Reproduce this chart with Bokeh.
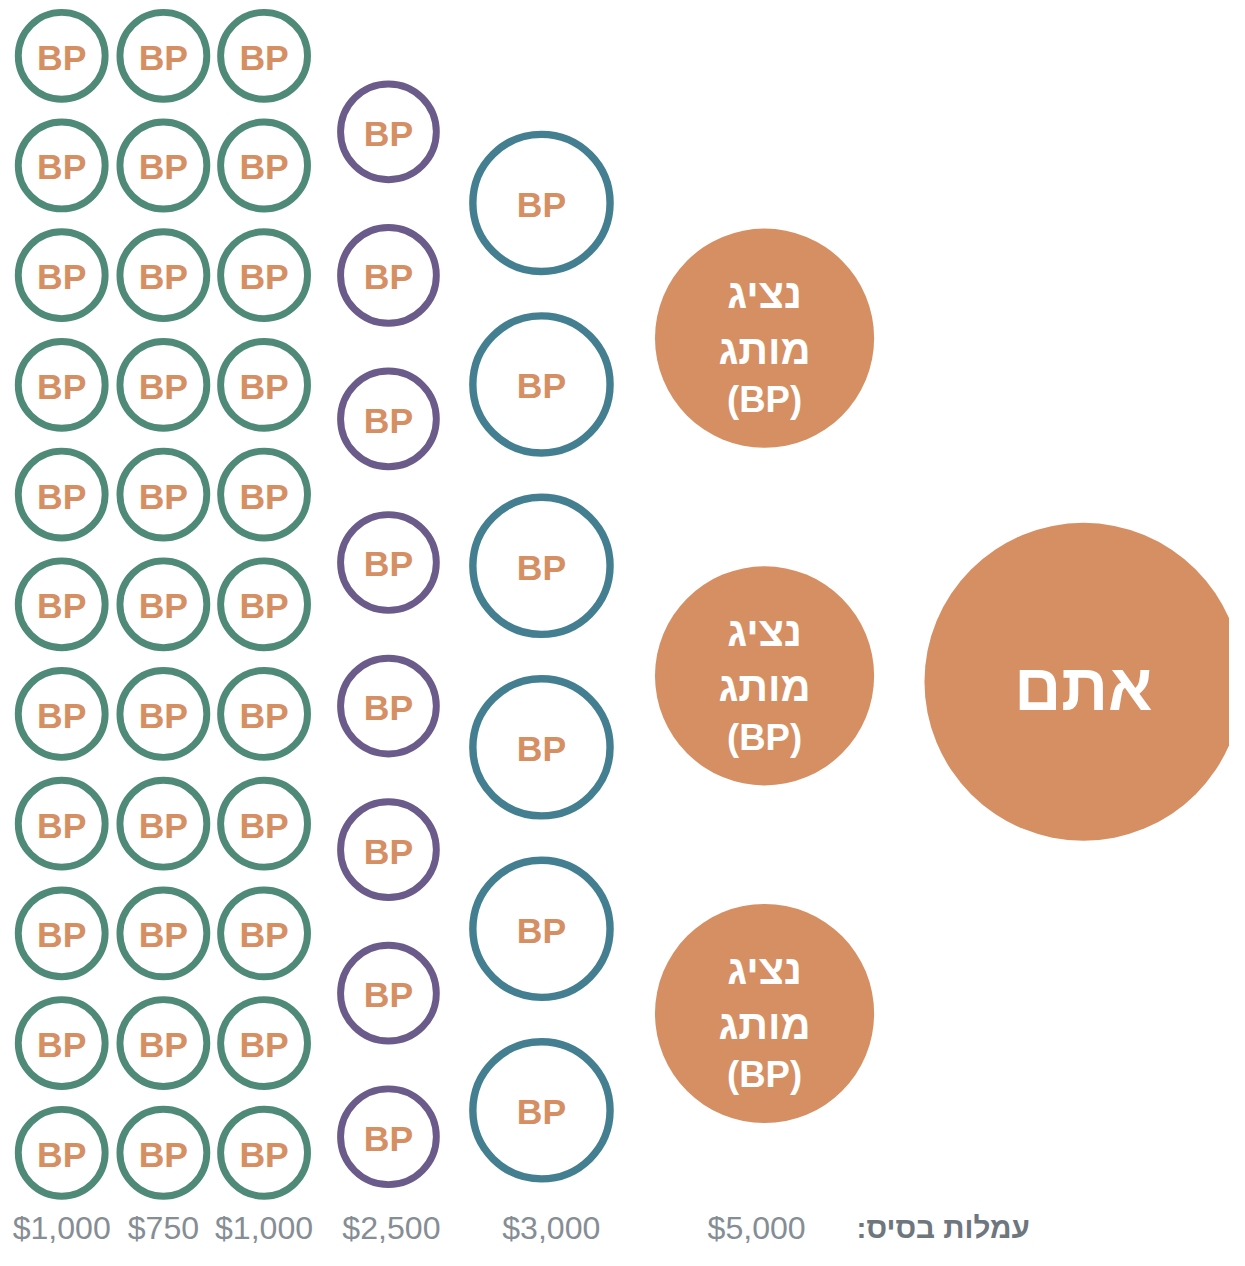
from bokeh.plotting import figure
from bokeh.models import Range1d, ColumnDataSource
from bokeh.core.properties import value
from bokeh.embed import file_html
from bokeh.resources import INLINE

# ---- data ----
tier_fees = ["$1,000", "$750", "$1,000", "$2,500", "$3,000", "$5,000"]
tier_counts = [11, 11, 11, 8, 6, 3]
ring_colors = ["#4e8a77", "#4e8a77", "#4e8a77", "#6b5b8a", "#437f91"]
circle_label = "BP"
rep_lines = ["נציג", "מותג", "(BP)"]
you_label = "אתם"
fee_title = "עמלות בסיס:\u200f"

# ---- layout (reference pixel space) ----
col_x = [62, 165, 267, 393, 548, 774]
col_y0 = [56, 56, 56, 133, 205, 342]
col_step = [111.1, 111.1, 111.1, 145.4, 183.8, 342]
col_r = [44, 44, 44, 48.5, 69.5, 111]
col_lw = [7, 7, 7, 7, 7.5, 0]
label_x = [62, 165, 267, 396, 558, 766]
label_y = 1243
title_x = 955
you_x, you_y, you_r = 1097, 690, 161

ORANGE = "#d58f62"
FONT = value("Liberation Sans")
S = 1229 / 1245  # screen scale

p = figure(width=1229, height=1250, x_range=Range1d(0, 1245), y_range=Range1d(1266, 0),
           output_backend="svg", toolbar_location=None, min_border=0)
p.axis.visible = False
p.grid.visible = False
p.outline_line_color = None
p.background_fill_color = "white"
p.border_fill_color = "white"

ring = dict(x=[], y=[], r=[], c=[], lw=[])
for ci in range(5):
    for k in range(tier_counts[ci]):
        ring["x"].append(col_x[ci])
        ring["y"].append(col_y0[ci] + k * col_step[ci])
        ring["r"].append(col_r[ci])
        ring["c"].append(ring_colors[ci])
        ring["lw"].append(col_lw[ci] * S)
rs = ColumnDataSource(ring)
p.circle(x="x", y="y", radius="r", source=rs, fill_color="white",
         line_color="c", line_width="lw")
bp = dict(x=[xx for xx in ring["x"]], y=[yy + 2 for yy in ring["y"]],
          t=[circle_label] * len(ring["x"]))
p.text(x="x", y="y", text="t", source=ColumnDataSource(bp), text_font=FONT,
       text_font_style="bold", text_font_size=f"{36*S:.1f}px", text_color=ORANGE,
       text_align="center", text_baseline="middle")

# filled brand-rep circles
ci = 5
rx = [col_x[ci]] * tier_counts[ci]
ry = [col_y0[ci] + k * col_step[ci] for k in range(tier_counts[ci])]
p.circle(x=rx, y=ry, radius=col_r[ci], fill_color=ORANGE, line_color=None)
line_off = [-45, 11, 62]
line_size = [42, 42, 37]
tx, ty, tt, ts = [], [], [], []
for yy in ry:
    for li, ln in enumerate(rep_lines):
        tx.append(col_x[ci]); ty.append(yy + line_off[li]); tt.append(ln)
        ts.append(f"{line_size[li]*S:.1f}px")
p.text(x=tx, y=ty, text=tt, text_font=FONT, text_font_style="bold",
       text_font_size=ts, text_color="white",
       text_align="center", text_baseline="middle")

# you
p.circle(x=[you_x], y=[you_y], radius=you_r, fill_color=ORANGE, line_color=None)
p.text(x=[you_x], y=[you_y + 6], text=[you_label], text_font=FONT, text_font_style="bold",
       text_font_size=f"{66*S:.1f}px", text_color="white",
       text_align="center", text_baseline="middle")

# fee labels
p.text(x=label_x, y=[label_y] * len(label_x), text=tier_fees, text_font=FONT,
       text_font_size=f"{32.5*S:.1f}px", text_color="#858d95",
       text_align="center", text_baseline="middle")
p.text(x=[title_x], y=[label_y], text=[fee_title], text_font=FONT, text_font_style="bold",
       text_font_size=f"{30*S:.1f}px", text_color="#6e767e",
       text_align="center", text_baseline="middle")

open("out.html", "w").write(file_html(p, INLINE))
